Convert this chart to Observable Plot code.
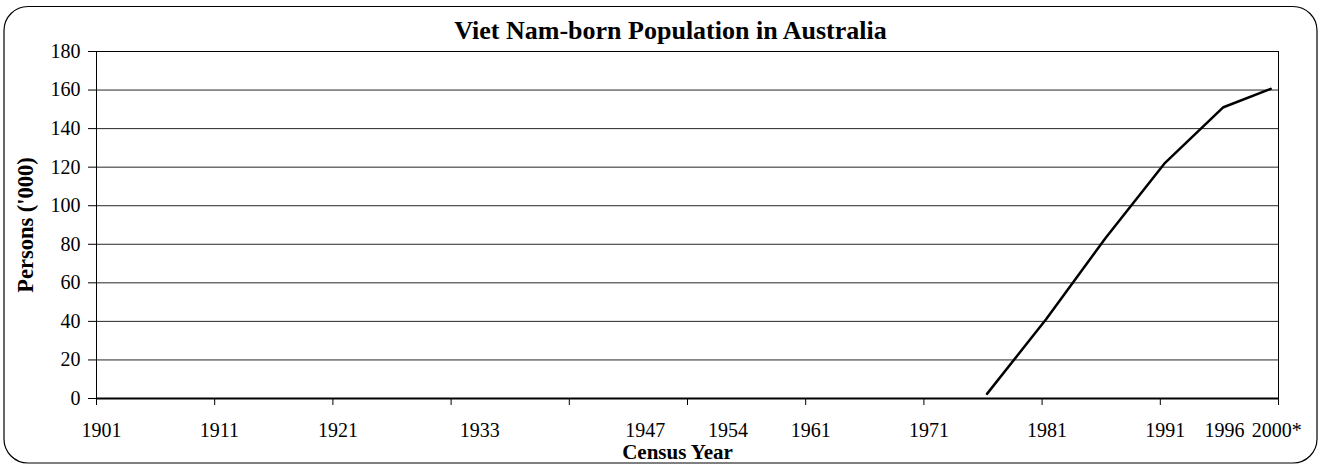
<!DOCTYPE html>
<html>
<head>
<meta charset="utf-8">
<script src="https://cdn.jsdelivr.net/npm/d3@7"></script>
<script src="https://cdn.jsdelivr.net/npm/@observablehq/plot@0.6"></script>
<style>
  html, body { margin: 0; padding: 0; background: #fff; }
  #chart { width: 1321px; height: 465px; }
</style>
</head>
<body>
<div id="chart"></div>
<script>
// Census years and Viet Nam-born persons ('000)
const years = [1976, 1981, 1986, 1991, 1996, 2000];
const persons = [2.4, 41.1, 83.0, 121.8, 151.1, 160.6];

// Tick label text and the years they mark
const labelYears = [1901, 1911, 1921, 1933, 1947, 1954, 1961, 1971, 1981, 1991, 1996, 2000];
const labelText = ["1901", "1911", "1921", "1933", "1947", "1954", "1961", "1971", "1981", "1991", "1996", "2000*"];
const tickYears = [1901, 1911, 1921, 1931, 1941, 1951, 1961, 1971, 1981, 1991, 2001];
const yTicks = [0, 20, 40, 60, 80, 100, 120, 140, 160, 180];

const title = "Viet Nam-born Population in Australia";
const xTitle = "Census Year";
const yTitle = "Persons ('000)";

const data = years.map((y, i) => ({year: y, value: persons[i]}));
const labels = labelYears.map((y, i) => ({year: y, text: labelText[i]}));

const font = "'Liberation Serif', 'Times New Roman', serif";

const chart = Plot.plot({
  width: 1321,
  height: 465,
  marginLeft: 96,
  marginRight: 43,
  marginTop: 51,
  marginBottom: 67,
  style: {fontFamily: font, fontSize: "20px", color: "#000", background: "#fff"},
  x: {domain: [1901, 2001], axis: null},
  y: {domain: [0, 180]},
  marks: [
    Plot.ruleY(yTicks.filter(d => d > 0), {stroke: "#000", strokeWidth: 1, strokeOpacity: 0.85}),
    Plot.frame({stroke: "#000", strokeWidth: 1}),
    Plot.axisY({
      ticks: yTicks, tickSize: 8, tickPadding: 8, tickFormat: d => d,
      fontSize: 20, label: null
    }),
    Plot.text([yTitle], {
      frameAnchor: "left", rotate: -90, dx: -71, textAnchor: "middle",
      fontWeight: "bold", fontSize: 22.5
    }),
    Plot.axisX({ticks: tickYears, tickSize: 7, tickFormat: () => "", label: null}),
    Plot.ruleY([0], {stroke: "#000", strokeWidth: 1.8}),
    Plot.text(labels, {
      x: "year", text: "text", frameAnchor: "bottom", textAnchor: "start",
      dy: 38, dx: -15, fontSize: 20
    }),
    Plot.text([xTitle], {
      frameAnchor: "bottom", dy: 60, dx: -10, fontWeight: "bold", fontSize: 21
    }),
    Plot.text([title], {
      frameAnchor: "top", dy: -31, dx: -17, fontWeight: "bold", fontSize: 26
    }),
    Plot.line(data, {
      x: "year", y: "value", stroke: "#000", strokeWidth: 2.5, curve: "linear",
      strokeLinejoin: "round", dx: 4
    })
  ]
});

// outer rounded chart border
const svg = d3.select(chart);
svg.insert("rect", ":first-child")
  .attr("x", 4).attr("y", 6.5).attr("width", 1313).attr("height", 456.5)
  .attr("rx", 24).attr("ry", 24)
  .attr("fill", "#fff").attr("stroke", "#000").attr("stroke-width", 1.2);

document.getElementById("chart").appendChild(chart);
</script>
</body>
</html>
